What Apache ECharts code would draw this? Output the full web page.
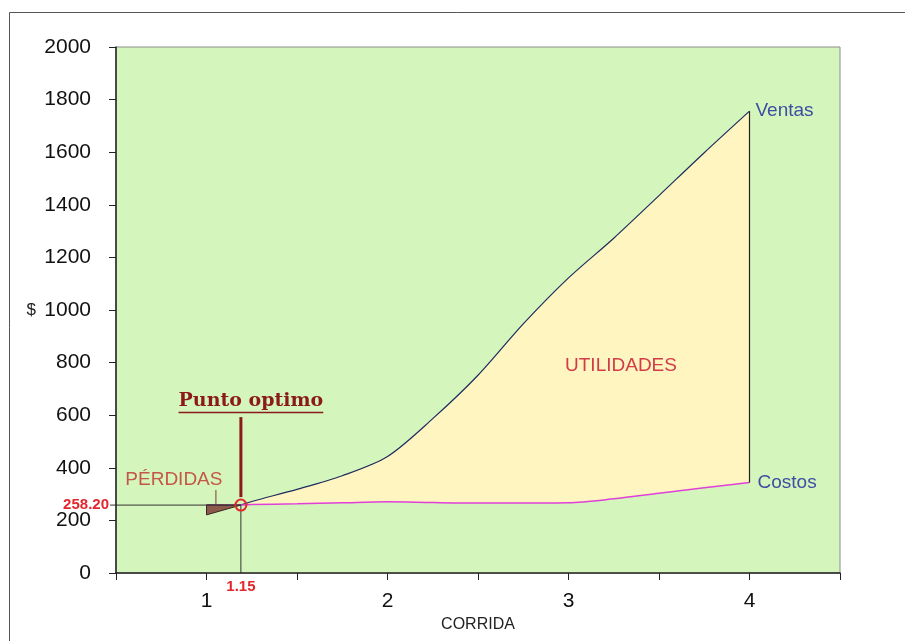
<!DOCTYPE html>
<html>
<head>
<meta charset="utf-8">
<script src="https://cdn.jsdelivr.net/npm/echarts@6/dist/echarts.min.js"></script>
<style>
html,body{margin:0;padding:0;background:#fff;}
#c{width:905px;height:641px;}
</style>
</head>
<body>
<div id="c"></div>
<script>
// ---- data ----
const corrida = [1, 1.19, 1.25, 1.5, 1.75, 2, 2.25, 2.5, 2.75, 3, 3.25, 3.5, 3.75, 4];
const ventas  = [221, 258.2, 272, 318, 370, 443, 587, 752, 947, 1122, 1273, 1435, 1598, 1756];
const costos  = [259, 258.2, 260, 263, 267, 271, 268, 266, 266, 267, 282, 303, 324, 344];
const crossIndex = 1;            // punto óptimo (ventas = costos)
const puntoXLabel = '1.15';
const puntoYLabel = '258.20';
const xTicks = [1, 2, 3, 4];
const seriesNames = ['Ventas', 'Costos'];

const SMOOTH = 0.3;
const GREEN = '#d4f6bc';
const chart = echarts.init(document.getElementById('c'), null, {renderer: 'canvas'});

const ventasData = corrida.map((x, i) => [x, ventas[i]]);
const costosData = corrida.map((x, i) => [x, costos[i]]);

function measure(text, font) {
  const ctx = document.createElement('canvas').getContext('2d');
  ctx.font = font;
  return ctx.measureText(text).width;
}

const option = {
  animation: false,
  backgroundColor: '#ffffff',
  graphic: [{
    type: 'rect', silent: true, z: -10,
    shape: {x: 9.5, y: 12.5, width: 1200, height: 1200},
    style: {fill: 'none', stroke: '#555', lineWidth: 1}
  }],
  grid: {
    left: 116, right: 65, top: 47, bottom: 68,
    show: true, backgroundColor: GREEN, borderColor: '#8c8c8c', borderWidth: 1,
    outerBoundsMode: 'none'
  },
  xAxis: {
    type: 'value', min: 0.5, max: 4.5, interval: 0.5, z: 10,
    axisLine: {onZero: false, lineStyle: {color: '#222', width: 1.5}},
    axisTick: {show: true, length: 7, lineStyle: {color: '#222', width: 1}},
    splitLine: {show: false},
    axisLabel: {
      formatter: v => (xTicks.indexOf(v) >= 0 ? String(v) : ''),
      fontSize: 21, color: '#111', margin: 18, fontFamily: 'Liberation Sans, Arial, sans-serif'
    },
    name: 'CORRIDA', nameLocation: 'middle', nameGap: 35,
    nameTextStyle: {fontSize: 16, color: '#222', fontFamily: 'Liberation Sans, Arial, sans-serif'}
  },
  yAxis: {
    type: 'value', min: 0, max: 2000, interval: 200, z: 10,
    axisLine: {show: true, lineStyle: {color: '#222', width: 1.5}},
    axisTick: {show: true, length: 7, lineStyle: {color: '#222', width: 1}},
    splitLine: {show: false},
    axisLabel: {formatter: v => String(v), fontSize: 21, color: '#111', margin: 25,
      fontFamily: 'Liberation Sans, Arial, sans-serif'},
    name: '$', nameLocation: 'middle', nameRotate: 0, nameGap: 80,
    nameTextStyle: {fontSize: 17, color: '#222', fontFamily: 'Liberation Sans, Arial, sans-serif'}
  },
  series: [
    {
      // ventas: yellow area below the line; the costos area (background green) covers what is below costos
      name: seriesNames[0], type: 'line', data: ventasData, showSymbol: false, z: 2,
      smooth: SMOOTH,
      lineStyle: {color: '#1f2a5e', width: 1.2},
      itemStyle: {color: '#1f2a5e'},
      areaStyle: {color: '#fff5c0', opacity: 1},
      endLabel: {show: true, formatter: '{a}', color: '#3d4ea3', fontSize: 19, distance: 6,
        fontFamily: 'Liberation Sans, Arial, sans-serif'}
    },
    {
      name: seriesNames[1], type: 'line', data: costosData, showSymbol: false, z: 3,
      smooth: SMOOTH,
      lineStyle: {color: '#e040d8', width: 1.5},
      itemStyle: {color: '#e040d8'},
      areaStyle: {color: GREEN, opacity: 1},
      endLabel: {show: true, formatter: '{a}', color: '#3d4ea3', fontSize: 19, distance: 8,
        fontFamily: 'Liberation Sans, Arial, sans-serif'}
    },
    {
      // pérdidas (brown) + closing line at the last corrida
      type: 'custom', silent: true, z: 4,
      data: [[1, 0]],
      renderItem: function (params, api) {
        const vP = corrida.map((x, i) => api.coord([x, ventas[i]]));
        const cP = corrida.map((x, i) => api.coord([x, costos[i]]));
        const k = crossIndex;
        const loss = vP.slice(0, k + 1).concat(cP.slice(0, k + 1).reverse());
        const last = corrida.length - 1;
        const yBase = api.coord([corrida[0], 0])[1];
        return {
          type: 'group',
          children: [
            // hide anti-aliasing seams of the stacked fills below costos
            {type: 'line', shape: {x1: cP[0][0], y1: cP[0][1] + 2, x2: cP[0][0], y2: yBase - 1}, style: {stroke: GREEN, lineWidth: 2}},
            {type: 'line', shape: {x1: cP[last][0], y1: cP[last][1] + 2, x2: cP[last][0], y2: yBase - 1}, style: {stroke: GREEN, lineWidth: 2}},
            {type: 'polygon', shape: {points: loss}, style: {fill: '#8c5a4b', stroke: '#3a2a24', lineWidth: 1}},
            {type: 'line', shape: {x1: vP[last][0], y1: vP[last][1], x2: cP[last][0], y2: cP[last][1]},
              style: {stroke: '#222', lineWidth: 1.2}}
          ]
        };
      }
    },
    {
      // annotations
      type: 'custom', silent: true, z: 5,
      data: [[1, 0]],
      renderItem: function (params, api) {
        const cx = corrida[crossIndex], cy = ventas[crossIndex];
        const p = api.coord([cx, cy]);
        const axisX = api.coord([0.5, cy])[0];
        const y0 = api.coord([cx, 0])[1];
        const utilPos = api.coord([3.29, 787]);
        const titleFont = 'bold 19px "DejaVu Serif", serif';
        const titleW = measure('Punto optimo', titleFont);
        const titleCx = p[0] + 10;
        return {
          type: 'group',
          children: [
            {type: 'line', shape: {x1: axisX - 6, y1: p[1], x2: p[0], y2: p[1]}, style: {stroke: '#333', lineWidth: 1}},
            {type: 'line', shape: {x1: p[0], y1: p[1], x2: p[0], y2: y0}, style: {stroke: '#333', lineWidth: 1}},
            {type: 'line', shape: {x1: p[0], y1: p[1] - 88, x2: p[0], y2: p[1] - 8}, style: {stroke: '#8b1a1a', lineWidth: 3}},
            {type: 'circle', shape: {cx: p[0], cy: p[1], r: 5.5}, style: {fill: 'none', stroke: '#e02a2a', lineWidth: 2}},
            {type: 'text', x: axisX - 7, y: p[1], style: {text: puntoYLabel, fill: '#e3262e',
              font: 'bold 15px "Liberation Sans", Arial, sans-serif', align: 'right', verticalAlign: 'middle'}},
            {type: 'text', x: p[0], y: y0 + 14, style: {text: puntoXLabel, fill: '#e3262e',
              font: 'bold 15px "Liberation Sans", Arial, sans-serif', align: 'center', verticalAlign: 'middle'}},
            {type: 'text', x: titleCx, y: p[1] - 104, style: {text: 'Punto optimo', fill: '#8b1a1a',
              font: titleFont, align: 'center', verticalAlign: 'middle'}},
            {type: 'line', shape: {x1: titleCx - titleW / 2, y1: p[1] - 92.5, x2: titleCx + titleW / 2, y2: p[1] - 92.5},
              style: {stroke: '#8b1a1a', lineWidth: 1.5}},
            {type: 'text', x: p[0] - 67, y: p[1] - 25, style: {text: 'PÉRDIDAS', fill: '#c4564a',
              font: '19px "Liberation Sans", Arial, sans-serif', align: 'center', verticalAlign: 'middle'}},
            {type: 'line', shape: {x1: p[0] - 25, y1: p[1] - 15, x2: p[0] - 25, y2: p[1] - 1}, style: {stroke: '#8c5a4b', lineWidth: 1.2}},
            {type: 'text', x: utilPos[0], y: utilPos[1], style: {text: 'UTILIDADES', fill: '#d23c4a',
              font: '19px "Liberation Sans", Arial, sans-serif', align: 'center', verticalAlign: 'middle'}}
          ]
        };
      }
    }
  ]
};

chart.setOption(option);
</script>
</body>
</html>
